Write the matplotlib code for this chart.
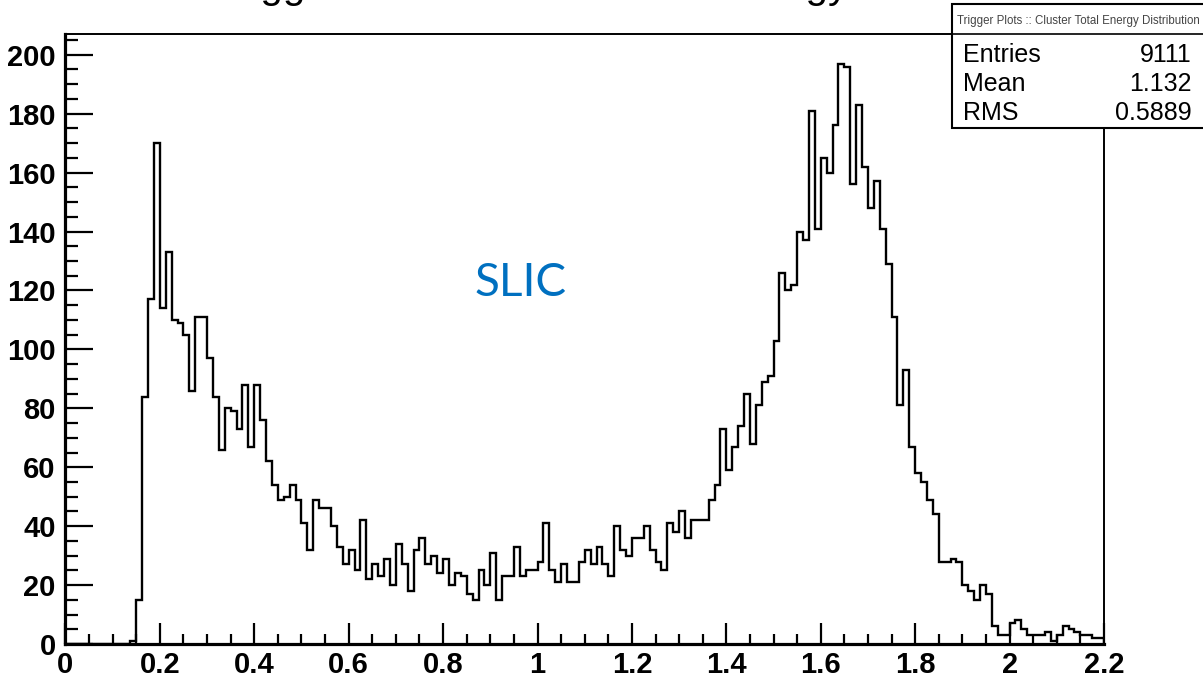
import matplotlib.pyplot as plt
import numpy as np
from matplotlib.patches import Rectangle
from matplotlib.lines import Line2D
from matplotlib.ticker import MultipleLocator, FormatStrFormatter

# Cluster total energy, 176 bins from 0 to 2.2
x_min, x_max, n_bins = 0.0, 2.2, 176
counts = [
    0, 0, 0, 0, 0, 0, 0, 0, 0, 0,
    0, 1, 15, 84, 117, 170, 114, 133, 110, 109,
    105, 86, 111, 111, 97, 84, 66, 80, 79, 73,
    88, 67, 88, 76, 62, 54, 49, 50, 54, 49,
    41, 32, 49, 46, 46, 40, 33, 27, 32, 25,
    42, 22, 27, 23, 29, 20, 34, 27, 18, 32,
    36, 27, 30, 24, 29, 20, 24, 23, 17, 15,
    25, 20, 31, 15, 23, 23, 33, 23, 25, 25,
    28, 41, 25, 21, 27, 21, 21, 28, 32, 27,
    33, 27, 23, 40, 32, 30, 36, 36, 40, 32,
    28, 25, 41, 38, 45, 36, 42, 42, 42, 49,
    54, 73, 59, 67, 74, 85, 68, 81, 89, 91,
    103, 126, 120, 122, 140, 137, 181, 141, 165, 160,
    176, 197, 196, 156, 183, 162, 148, 157, 141, 129,
    111, 81, 93, 67, 58, 55, 49, 44, 28, 28,
    29, 28, 20, 18, 15, 20, 17, 6, 3, 3,
    7, 8, 5, 3, 3, 3, 4, 1, 3, 6,
    5, 4, 3, 3, 2, 2,
]

title = "Trigger Plots :: Cluster Total Energy Distribution"
stat_names = ["Entries", "Mean", "RMS"]
stat_values = ["9111", "1.132", "0.5889"]

edges = np.linspace(x_min, x_max, n_bins + 1)

fig = plt.figure(figsize=(12.03, 6.77), dpi=100)
ax = fig.add_axes([0.0544, 0.0487, 0.8633, 0.9018])

ax.stairs(counts, edges, color="black", linewidth=1.7)

ax.set_xlim(x_min, x_max)
ax.set_ylim(0, 207.2)

# ROOT-like frame: ticks inside, thick left/bottom axes
for side in ["left", "bottom"]:
    ax.spines[side].set_linewidth(2.3)
for side in ["top", "right"]:
    ax.spines[side].set_linewidth(1.4)

ax.xaxis.set_major_locator(MultipleLocator(0.2))
ax.xaxis.set_minor_locator(MultipleLocator(0.05))
ax.yaxis.set_major_locator(MultipleLocator(20))
ax.yaxis.set_minor_locator(MultipleLocator(5))
ax.xaxis.set_major_formatter(FormatStrFormatter("%g"))

ax.tick_params(axis="x", which="major", direction="in", length=15, width=1.6, pad=5)
ax.tick_params(axis="x", which="minor", direction="in", length=7.5, width=1.6)
ax.tick_params(axis="y", which="major", direction="in", length=20, width=1.6, pad=7)
ax.tick_params(axis="y", which="minor", direction="in", length=9.5, width=1.6)
for lab in ax.get_xticklabels() + ax.get_yticklabels():
    lab.set_fontfamily("Liberation Sans")
    lab.set_fontweight("bold")
    lab.set_fontsize(21)

# main title, mostly above the canvas
fig.text(0.530, 1.003, title, ha="center", va="baseline",
         fontsize=29, family="Liberation Sans")

# "SLIC" label
ax.text(0.4377, 0.591, "SLIC", transform=ax.transAxes, ha="center", va="center",
        fontsize=33, color="#0070C0", family="Lato")

# stats box
bx0, bx1 = 952 / 1203, 1.01
by0, by1 = 1 - 128 / 677, 1 - 4 / 677
fig.add_artist(Rectangle((bx0, by0), bx1 - bx0, by1 - by0, transform=fig.transFigure,
                         facecolor="white", edgecolor="black", linewidth=1.5, zorder=5))
hy = 1 - 34 / 677
fig.add_artist(Line2D([bx0, bx1], [hy, hy], transform=fig.transFigure,
                      color="black", linewidth=1.2, zorder=6))
fig.text(1078 / 1203, 1 - 21 / 677, title, ha="center", va="center",
         fontsize=8.3, family="Liberation Sans", color="#444444", zorder=7)
rows_y = [55, 84, 113]
for name, val, yp in zip(stat_names, stat_values, rows_y):
    fig.text(963 / 1203, 1 - yp / 677, name, ha="left", va="center",
             fontsize=18, family="Liberation Sans", zorder=7)
    fig.text(1192 / 1203, 1 - yp / 677, val, ha="right", va="center",
             fontsize=18, family="Liberation Sans", zorder=7)

fig.savefig("out.png", dpi=100)
